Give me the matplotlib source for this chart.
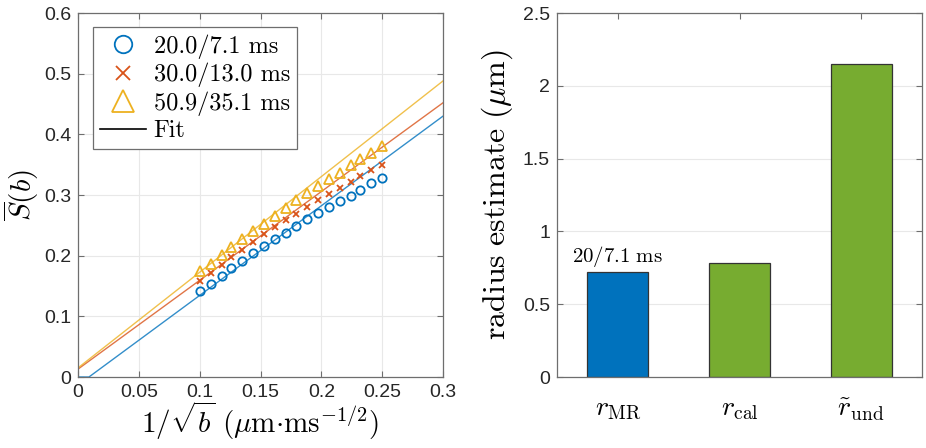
import numpy as np
import matplotlib
matplotlib.use("Agg")
import matplotlib.pyplot as plt

plt.rcParams['mathtext.fontset'] = 'cm'
plt.rcParams['font.family'] = ['Liberation Sans', 'DejaVu Sans']

# left panel data
inv_sqrt_b = [0.100, 0.109, 0.118, 0.126, 0.135, 0.144, 0.153, 0.162, 0.171,
              0.179, 0.188, 0.197, 0.206, 0.215, 0.224, 0.232, 0.241, 0.250]
s_20 = [0.141, 0.154, 0.167, 0.180, 0.192, 0.204, 0.216, 0.227, 0.238,
        0.249, 0.260, 0.270, 0.280, 0.290, 0.299, 0.309, 0.319, 0.328]
s_30 = [0.158, 0.171, 0.185, 0.197, 0.210, 0.222, 0.235, 0.247, 0.258,
        0.269, 0.280, 0.291, 0.302, 0.312, 0.321, 0.331, 0.341, 0.350]
s_50 = [0.174, 0.187, 0.201, 0.214, 0.227, 0.241, 0.253, 0.266, 0.279,
        0.291, 0.303, 0.315, 0.326, 0.337, 0.349, 0.359, 0.370, 0.381]
labels = ['20.0/7.1 ms', '30.0/13.0 ms', '50.9/35.1 ms']

fit_x_20 = [0.0, 0.009, 0.3]
fit_y_20 = [0.0, 0.0, 0.430]
fit_x = [0.0, 0.3]
fit_y_30 = [0.013, 0.452]
fit_y_50 = [0.015, 0.488]

# right panel data
bar_names = [r'$r_{\mathrm{MR}}$', r'$r_{\mathrm{cal}}$', r'$\tilde{r}_{\mathrm{und}}$']
bar_vals = [0.721, 0.785, 2.147]

blue = '#0072BD'
red = '#D95319'
yellow = '#EDB120'
green = '#77AC30'
axcol = '#6e6e6e'
tickcol = '#262626'

fig = plt.figure(figsize=(9.26, 4.48), dpi=100)
ax1 = fig.add_axes([78/926, 71/448, 365/926, 364/448])
ax2 = fig.add_axes([557/926, 71/448, 365/926, 364/448])

def style(ax):
    for sp in ax.spines.values():
        sp.set_color(axcol)
        sp.set_linewidth(0.9)
    ax.tick_params(direction='in', top=True, right=True, length=4, width=0.8,
                   color=axcol, labelcolor=tickcol, labelsize=14, pad=5)
    ax.set_axisbelow(True)

# fit lines
ax1.plot(fit_x_20, fit_y_20, color=blue, lw=1, alpha=0.8, clip_on=True)
ax1.plot(fit_x, fit_y_30, color=red, lw=1, alpha=0.8)
ax1.plot(fit_x, fit_y_50, color=yellow, lw=1, alpha=0.8)

ax1.plot(inv_sqrt_b, s_20, 'o', ms=6, mfc='none', mec=blue, mew=1.3, label=labels[0])
ax1.plot(inv_sqrt_b, s_30, 'x', ms=5, color=red, mew=1.3, label=labels[1])
ax1.plot(inv_sqrt_b, s_50, '^', ms=7.5, mfc='none', mec=yellow, mew=1.3, label=labels[2])
ax1.plot([], [], color='k', lw=1.2, label='Fit')

ax1.set_xlim(0, 0.3)
ax1.set_ylim(0, 0.6)
ax1.set_xticks([0, 0.05, 0.1, 0.15, 0.2, 0.25, 0.3])
ax1.set_xticklabels(['0', '0.05', '0.1', '0.15', '0.2', '0.25', '0.3'])
ax1.set_yticks([0, 0.1, 0.2, 0.3, 0.4, 0.5, 0.6])
ax1.set_yticklabels(['0', '0.1', '0.2', '0.3', '0.4', '0.5', '0.6'])
ax1.grid(True, color='#e8e8e8', lw=0.8)
style(ax1)
ax1.set_xlabel(r'$1/\sqrt{b}\ (\mu\mathrm{m}{\cdot}\mathrm{ms}^{-1/2})$', fontsize=21, labelpad=-1)
ax1.set_ylabel(r'$\overline{S}(b)$', fontsize=21, labelpad=2)

leg = ax1.legend(loc='upper left', bbox_to_anchor=(0.041, 0.962), borderaxespad=0,
                 prop={'family': 'cmr10', 'size': 17.5}, fancybox=False, framealpha=1,
                 edgecolor=axcol, markerscale=2.1, handlelength=1.9, handletextpad=0.3,
                 labelspacing=0.17, borderpad=0.3)
leg.get_frame().set_linewidth(0.9)

# bars
pos = np.arange(1, len(bar_vals) + 1)
ax2.bar(pos, bar_vals, width=0.5, color=[blue, green, green], edgecolor='#333333', lw=0.9)
ax2.set_xlim(0.5, 3.5)
ax2.set_ylim(0, 2.5)
ax2.set_xticks(pos)
ax2.set_xticklabels(bar_names)
ax2.set_yticks([0, 0.5, 1, 1.5, 2, 2.5])
ax2.set_yticklabels(['0', '0.5', '1', '1.5', '2', '2.5'])
ax2.grid(True, axis='y', color='#e8e8e8', lw=0.8)
style(ax2)
ax2.tick_params(axis='x', labelsize=20, labelcolor='black', pad=14)
ax2.set_ylabel(r'$\mathrm{radius\ estimate}\ (\mu\mathrm{m})$', fontsize=23, labelpad=6)
ax2.text(pos[0], bar_vals[0] + 0.02, r'$\mathrm{20/7.1\ ms}$', ha='center', va='bottom', fontsize=15)

fig.savefig('out.png', dpi=100)
